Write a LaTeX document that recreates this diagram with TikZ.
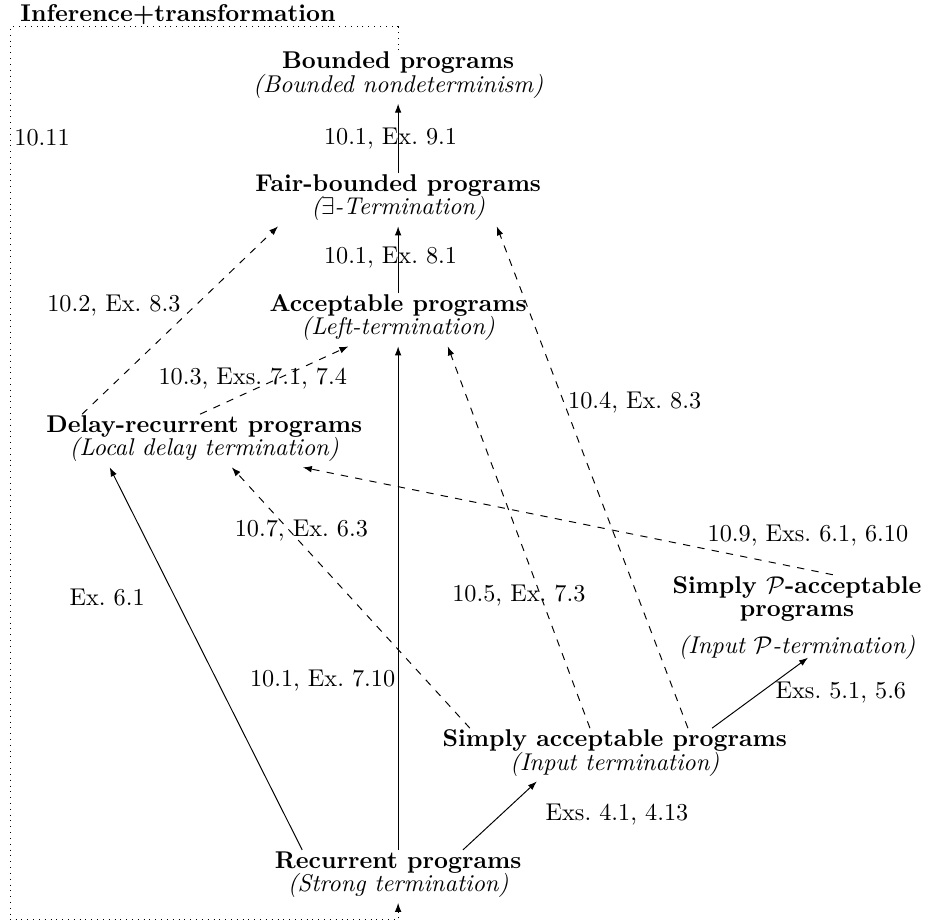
\documentclass[tikz,border=0pt]{standalone}
\usepackage{amsmath}
\usepackage{amssymb}
\usetikzlibrary{arrows.meta,positioning}
\tikzset{
  fx/.style={x=1mm, y=1mm, font=\normalsize},
  p prog/.style={align=center, inner xsep=1pt, inner ysep=0.5pt, text depth=4pt, font=\fontsize{10}{9.6}\selectfont},
  p lbl/.style={inner sep=1pt, font=\normalsize},
  p arr/.style={-{Latex[length=1.3mm, width=0.95mm]}},
  p dash/.style={p arr, dashed},
  p frame/.style={p arr, dotted},
  p title/.style={font=\bfseries, inner sep=0pt, anchor=base west},
}

\begin{document}
\begin{tikzpicture}[fx]
\useasboundingbox (0,0) rectangle (134.06,133.91);
\node[p prog] (bnd) at (57.7,122.74) {\textbf{Bounded programs}\\\textit{(Bounded nondeterminism)}};
\node[p prog] (fair) at (57.7,104.96) {\textbf{Fair-bounded programs}\\\textit{($\exists$-Termination)}};
\node[p prog] (acc) at (57.7,87.57) {\textbf{Acceptable programs}\\\textit{(Left-termination)}};
\node[p prog] (dr) at (29.6,70.03) {\textbf{Delay-recurrent programs}\\\textit{(Local delay termination)}};
\node[p prog] (pac) at (115.5,44.10) {\textbf{Simply $\mathcal{P}$-acceptable}\\\textbf{programs}\\[5.5pt]\textit{(Input $\mathcal{P}$-termination)}};
\node[p prog] (sa) at (89.1,24.52) {\textbf{Simply acceptable programs}\\\textit{(Input termination)}};
\node[p prog] (rec) at (57.7,6.90) {\textbf{Recurrent programs}\\\textit{(Strong termination)}};
\coordinate (ftl) at (1.5,130.0);
\coordinate (fbl) at (1.5,0.58);
\node[p title] (inft) at ([xshift=1.4mm, yshift=0.77mm]ftl) {Inference+transformation};
% solid: proper inclusions
\draw[p arr] (rec.north) -- node[p lbl, left, pos=0.336] {10.1, Ex.~7.10} (acc.south);
\draw[p arr] (acc.north) -- node[p lbl, pos=0.53, xshift=-1.1mm] {10.1, Ex.~8.1} (fair.south);
\draw[p arr] (fair.north) -- node[p lbl, xshift=-1.1mm] {10.1, Ex.~9.1} (bnd.south);
\draw[p arr] ([xshift=-13.9mm]rec.north) -- node[p lbl, left=4mm, pos=0.66] {Ex.~6.1} ([xshift=-13.7mm]dr.south);
\draw[p arr] ([xshift=9.4mm]rec.north) -- node[p lbl, right=6.1mm, pos=0.51] {Exs.~4.1, 4.13} ([xshift=-11.3mm]sa.south);
\draw[p arr] ([xshift=14.1mm]sa.north) -- node[p lbl, right=1.7mm, pos=0.51] {Exs.~5.1, 5.6} ([xshift=1.6mm, yshift=1mm]pac.south);
% dashed: transformations
\draw[p dash] ([xshift=-17.7mm]dr.north) -- node[p lbl, left=1.8mm, pos=0.58] {10.2, Ex.~8.3} ([xshift=-17.4mm]fair.south);
\draw[p dash] ([xshift=-0.6mm]dr.north) -- node[p lbl, pos=0.52, xshift=-3.55mm] {10.3, Exs.~7.1, 7.4} ([xshift=-7.2mm]acc.south);
\draw[p dash] ([xshift=-21mm]sa.north) -- node[p lbl, pos=0.756, xshift=1.66mm] {10.7, Ex.~6.3} ([xshift=4mm]dr.south);
\draw[p dash] ([xshift=-3.6mm]sa.north) -- node[p lbl, pos=0.347, xshift=-3.15mm] {10.5, Ex.~7.3} ([xshift=7.2mm]acc.south);
\draw[p dash] ([xshift=10.6mm]sa.north) -- node[p lbl, right=0.2mm, pos=0.649] {10.4, Ex.~8.3} ([xshift=14.3mm]fair.south);
\draw[p dash] ([xshift=5.2mm]pac.north) -- node[p lbl, pos=0.047, yshift=5mm] {10.9, Exs.~6.1, 6.10} ([xshift=14.3mm]dr.south);
% dotted: inference+transformation
\draw[p frame] (bnd.north) |- (ftl) -- node[p lbl, right, inner sep=1.5pt, pos=0.124] {10.11} (fbl) -| (rec.south);
\end{tikzpicture}
\end{document}
